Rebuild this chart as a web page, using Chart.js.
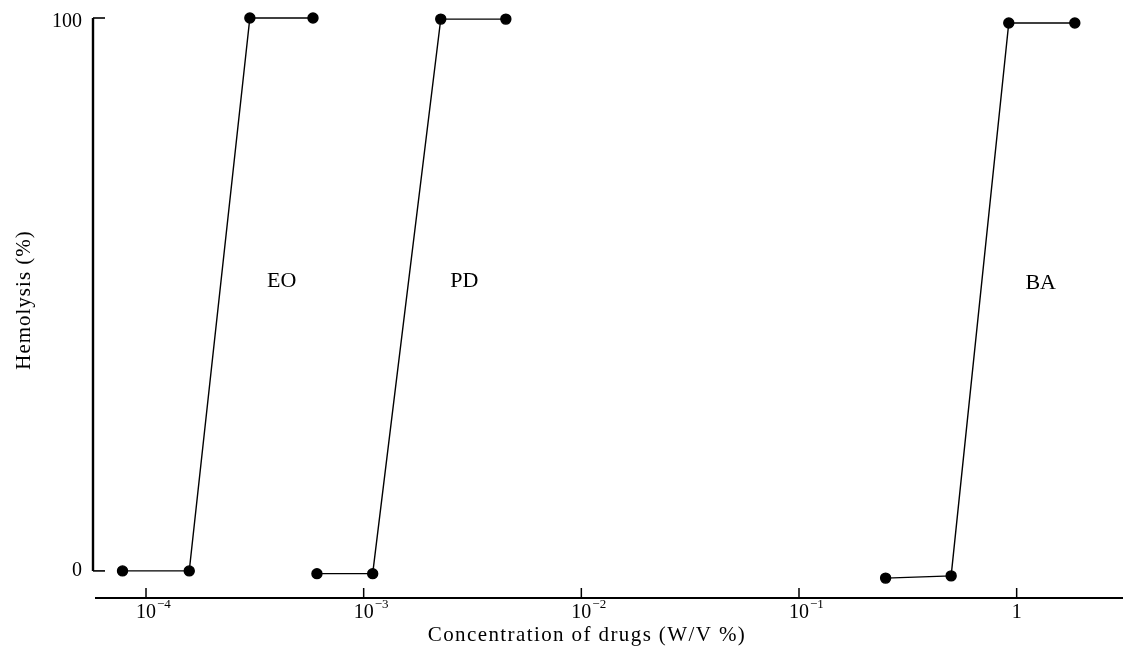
<!DOCTYPE html>
<html>
<head>
<meta charset="utf-8">
<script src="https://cdn.jsdelivr.net/npm/chart.js@4"></script>
<style>
  html, body { margin: 0; padding: 0; background: #fff; }
  #wrap { width: 1123px; height: 655px; }
</style>
</head>
<body>
<div id="wrap"><canvas id="chart" width="1123" height="655"></canvas></div>
<script>
// concentrations (W/V %) and hemolysis (%)
const eoConc = [7.8e-5, 1.58e-4, 3.0e-4, 5.85e-4];
const eoHemo = [0, 0, 100, 100];
const pdConc = [6.1e-4, 1.1e-3, 2.26e-3, 4.5e-3];
const pdHemo = [-0.5, -0.5, 99.8, 99.8];
const baConc = [0.25, 0.5, 0.92, 1.85];
const baHemo = [-1.3, -0.9, 99.1, 99.1];

const drugNames = ['EO', 'PD', 'BA'];
const nameConc = [4.2e-4, 2.9e-3, 1.29];
const nameHemo = [52.4, 52.4, 52];

const xTicks = [1e-4, 1e-3, 1e-2, 1e-1, 1];
const xTickBase = ['10', '10', '10', '10', '1'];
const xTickExp = ['\u22124', '\u22123', '\u22122', '\u22121', ''];
const yTicks = [0, 100];
const yTickLabels = ['0', '100'];

const serif = '"Liberation Serif", "DejaVu Serif", serif';

function pts(xs, ys) {
  return xs.map((x, i) => ({ x: x, y: ys[i] }));
}

function ds(xs, ys) {
  return {
    data: pts(xs, ys),
    showLine: true,
    borderColor: '#000',
    backgroundColor: '#000',
    borderWidth: 1.4,
    pointRadius: 5,
    pointHoverRadius: 5,
    clip: false
  };
}

// axes, tick labels with exponents, titles and series names
const axesPlugin = {
  id: 'axesPlugin',
  afterDraw(chart) {
    const c = chart.ctx;
    const xs = chart.scales.x, ys = chart.scales.y;
    const area = chart.chartArea;
    c.save();
    c.strokeStyle = '#000';
    c.fillStyle = '#000';

    // x axis line with upward ticks
    c.lineWidth = 2.2;
    c.beginPath();
    c.moveTo(area.left, area.bottom);
    c.lineTo(chart.width, area.bottom);
    c.stroke();
    c.lineWidth = 1.5;
    xTicks.forEach((v, i) => {
      const px = xs.getPixelForValue(v);
      c.beginPath();
      c.moveTo(px, area.bottom);
      c.lineTo(px, area.bottom - 10);
      c.stroke();
      // label: base centred on the tick, exponent hanging to the right
      c.textBaseline = 'alphabetic';
      c.textAlign = 'center';
      c.font = '20px ' + serif;
      c.fillText(xTickBase[i], px, area.bottom + 20);
      const w = c.measureText(xTickBase[i]).width;
      if (xTickExp[i]) {
        c.textAlign = 'left';
        c.font = '13px ' + serif;
        c.fillText(xTickExp[i], px + w / 2 + 1, area.bottom + 10);
      }
    });

    // y axis line from 0 to 100 with right-pointing ticks and labels
    const y0 = ys.getPixelForValue(0), y100 = ys.getPixelForValue(100);
    const ax = area.left - 2;
    c.lineWidth = 2.4;
    c.beginPath();
    c.moveTo(ax, y0);
    c.lineTo(ax, y100);
    c.stroke();
    c.lineWidth = 1.6;
    c.font = '20px ' + serif;
    c.textAlign = 'right';
    c.textBaseline = 'middle';
    yTicks.forEach((v, i) => {
      const py = ys.getPixelForValue(v);
      c.beginPath();
      c.moveTo(ax, py);
      c.lineTo(ax + 12, py);
      c.stroke();
      c.fillText(yTickLabels[i], ax - 11, py + (i === 1 ? 4 : 0));
    });

    c.textAlign = 'center';
    // series names
    c.font = '22px ' + serif;
    drugNames.forEach((n, i) => {
      c.fillText(n, xs.getPixelForValue(nameConc[i]), ys.getPixelForValue(nameHemo[i]));
    });

    // axis titles
    c.font = '21px ' + serif;
    c.letterSpacing = '1.4px';
    c.textBaseline = 'alphabetic';
    c.fillText('Concentration of drugs (W/V %)', 587, 641);
    c.letterSpacing = '1px';
    c.translate(30, 300);
    c.rotate(-Math.PI / 2);
    c.fillText('Hemolysis (%)', 0, 0);
    c.restore();
  }
};

const ctx = document.getElementById('chart').getContext('2d');
const chart = new Chart(ctx, {
  type: 'scatter',
  data: {
    datasets: [ds(eoConc, eoHemo), ds(pdConc, pdHemo), ds(baConc, baHemo)]
  },
  options: {
    responsive: false,
    animation: false,
    layout: { autoPadding: false, padding: { top: 18, right: 0, left: 0, bottom: 0 } },
    plugins: { legend: { display: false }, tooltip: { enabled: false } },
    scales: {
      x: {
        type: 'logarithmic',
        min: 5.83e-5,
        max: 3.08,
        afterBuildTicks(scale) {
          scale.ticks = xTicks.map(v => ({ value: v }));
        },
        afterFit(scale) { scale.height = 57; },
        grid: { display: false },
        border: { display: false },
        ticks: { display: false }
      },
      y: {
        min: -4.9,
        max: 100,
        afterBuildTicks(scale) {
          scale.ticks = yTicks.map(v => ({ value: v }));
        },
        afterFit(scale) { scale.width = 95; },
        grid: { display: false, drawTicks: false },
        border: { display: false },
        ticks: { display: false }
      }
    }
  },
  plugins: [axesPlugin]
});
</script>
</body>
</html>
